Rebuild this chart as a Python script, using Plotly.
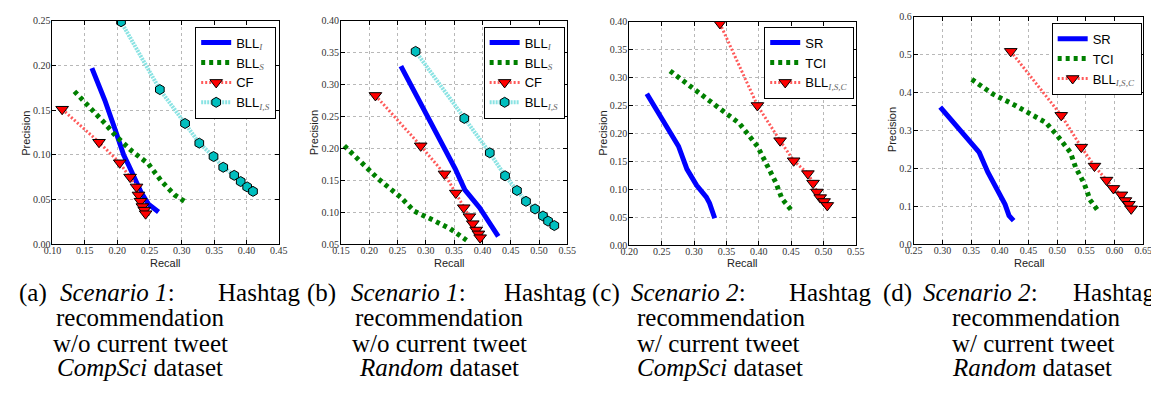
import plotly.graph_objects as go

W, H = 1159, 399

# ---------------- data ----------------
# (a) Scenario 1, CompSci
a_blli_x = [0.161, 0.181, 0.197, 0.210, 0.218, 0.226, 0.237, 0.248, 0.264]
a_blli_y = [0.197, 0.161, 0.128, 0.100, 0.088, 0.074, 0.058, 0.045, 0.036]
a_blls_x = [0.134, 0.160, 0.180, 0.198, 0.223, 0.248, 0.269, 0.289, 0.308]
a_blls_y = [0.171, 0.152, 0.136, 0.121, 0.104, 0.090, 0.070, 0.055, 0.046]
a_cf_x = [0.115, 0.172, 0.204, 0.220, 0.230, 0.233, 0.236, 0.239, 0.242, 0.244]
a_cf_y = [0.151, 0.114, 0.091, 0.075, 0.064, 0.055, 0.048, 0.042, 0.038, 0.034]
a_bllis_x = [0.206, 0.266, 0.305, 0.327, 0.349, 0.364, 0.381, 0.391, 0.401, 0.410]
a_bllis_y = [0.249, 0.173, 0.135, 0.113, 0.098, 0.086, 0.077, 0.070, 0.064, 0.059]

# (b) Scenario 1, Random
b_blli_x = [0.256, 0.288, 0.320, 0.352, 0.369, 0.395, 0.428]
b_blli_y = [0.329, 0.275, 0.224, 0.168, 0.135, 0.107, 0.062]
b_blls_x = [0.156, 0.185, 0.215, 0.256, 0.279, 0.314, 0.343, 0.372]
b_blls_y = [0.204, 0.178, 0.153, 0.123, 0.102, 0.087, 0.074, 0.056]
b_cf_x = [0.211, 0.291, 0.333, 0.353, 0.367, 0.377, 0.383, 0.389, 0.393, 0.396]
b_cf_y = [0.283, 0.204, 0.160, 0.130, 0.107, 0.093, 0.082, 0.072, 0.066, 0.060]
b_bllis_x = [0.282, 0.368, 0.413, 0.440, 0.461, 0.477, 0.493, 0.507, 0.516, 0.527]
b_bllis_y = [0.352, 0.247, 0.193, 0.157, 0.134, 0.117, 0.105, 0.094, 0.086, 0.079]

# (c) Scenario 2, CompSci
c_sr_x = [0.227, 0.253, 0.276, 0.289, 0.304, 0.319, 0.324, 0.332]
c_sr_y = [0.271, 0.223, 0.177, 0.136, 0.107, 0.086, 0.075, 0.048]
c_tci_x = [0.263, 0.304, 0.340, 0.370, 0.398, 0.413, 0.426, 0.436, 0.450]
c_tci_y = [0.312, 0.276, 0.247, 0.218, 0.177, 0.142, 0.113, 0.083, 0.063]
c_bllisc_x = [0.340, 0.398, 0.433, 0.454, 0.476, 0.484, 0.490, 0.495, 0.501, 0.506]
c_bllisc_y = [0.397, 0.250, 0.187, 0.151, 0.128, 0.111, 0.095, 0.085, 0.078, 0.071]

# (d) Scenario 2, Random
d_sr_x = [0.296, 0.331, 0.364, 0.379, 0.402, 0.409, 0.416, 0.424]
d_sr_y = [0.362, 0.302, 0.242, 0.190, 0.122, 0.105, 0.075, 0.062]
d_tci_x = [0.351, 0.388, 0.427, 0.480, 0.501, 0.523, 0.532, 0.547, 0.553, 0.557, 0.572]
d_tci_y = [0.435, 0.396, 0.366, 0.321, 0.285, 0.242, 0.203, 0.160, 0.135, 0.117, 0.086]
d_bllisc_x = [0.419, 0.507, 0.542, 0.565, 0.586, 0.598, 0.612, 0.619, 0.625, 0.629]
d_bllisc_y = [0.509, 0.340, 0.256, 0.206, 0.169, 0.147, 0.130, 0.115, 0.105, 0.093]

# axis ranges / ticks
a_xticks = [0.10, 0.15, 0.20, 0.25, 0.30, 0.35, 0.40, 0.45]
a_yticks = [0.00, 0.05, 0.10, 0.15, 0.20, 0.25]
b_xticks = [0.15, 0.20, 0.25, 0.30, 0.35, 0.40, 0.45, 0.50, 0.55]
b_yticks = [0.05, 0.10, 0.15, 0.20, 0.25, 0.30, 0.35, 0.40]
c_xticks = [0.20, 0.25, 0.30, 0.35, 0.40, 0.45, 0.50, 0.55]
c_yticks = [0.00, 0.05, 0.10, 0.15, 0.20, 0.25, 0.30, 0.35, 0.40]
d_xticks = [0.25, 0.30, 0.35, 0.40, 0.45, 0.50, 0.55, 0.60, 0.65]
d_yticks = [0.0, 0.1, 0.2, 0.3, 0.4, 0.5, 0.6]

SERIF = '"Liberation Serif", "Times New Roman", "DejaVu Serif", serif'
SANS = '"Liberation Sans", Arial, "DejaVu Sans", sans-serif'

# legend labels
SUB = "<sub><span style='font-family:Liberation Serif, DejaVu Serif, serif;color:#666'><i>{}</i></span></sub>"
lab_blli = 'BLL' + SUB.format('I')
lab_blls = 'BLL' + SUB.format('S')
lab_cf = 'CF'
lab_bllis = 'BLL' + SUB.format('I,S')
lab_sr = 'SR'
lab_tci = 'TCI'
lab_bllisc = 'BLL' + SUB.format('I,S,C')

# ---------------- styles ----------------
def st_blue():
    return dict(mode='lines', line=dict(color='#0000ff', width=5))

def st_green():
    return dict(mode='lines', line=dict(color='#008000', width=5, dash='4px,4px'))

def st_red():
    return dict(mode='lines+markers', line=dict(color='#ff5a5a', width=3, dash='2px,2px'),
                marker=dict(symbol='triangle-down', size=11, color='#ff0000',
                            line=dict(color='black', width=1)))

def st_cyan():
    return dict(mode='lines+markers', line=dict(color='#8ae3e3', width=4, dash='2px,1px'),
                marker=dict(symbol='hexagon', size=10, color='#00bfbf',
                            line=dict(color='black', width=1)))

fig = go.Figure()

def add(ax, lg, x, y, name, st):
    xa = 'x' if ax == 1 else f'x{ax}'
    ya = 'y' if ax == 1 else f'y{ax}'
    fig.add_trace(go.Scatter(x=x, y=y, name=name, xaxis=xa, yaxis=ya,
                             legend=lg, **st))

add(1, 'legend', a_blli_x, a_blli_y, lab_blli, st_blue())
add(1, 'legend', a_blls_x, a_blls_y, lab_blls, st_green())
add(1, 'legend', a_cf_x, a_cf_y, lab_cf, st_red())
add(1, 'legend', a_bllis_x, a_bllis_y, lab_bllis, st_cyan())

add(2, 'legend2', b_blli_x, b_blli_y, lab_blli, st_blue())
add(2, 'legend2', b_blls_x, b_blls_y, lab_blls, st_green())
add(2, 'legend2', b_cf_x, b_cf_y, lab_cf, st_red())
add(2, 'legend2', b_bllis_x, b_bllis_y, lab_bllis, st_cyan())

add(3, 'legend3', c_sr_x, c_sr_y, lab_sr, st_blue())
add(3, 'legend3', c_tci_x, c_tci_y, lab_tci, st_green())
add(3, 'legend3', c_bllisc_x, c_bllisc_y, lab_bllisc, st_red())

add(4, 'legend4', d_sr_x, d_sr_y, lab_sr, st_blue())
add(4, 'legend4', d_tci_x, d_tci_y, lab_tci, st_green())
add(4, 'legend4', d_bllisc_x, d_bllisc_y, lab_bllisc, st_red())

# ---------------- layout ----------------
panels = [
    dict(x0=36, x1=266, y0=8, y1=237, xt=a_xticks, yt=a_yticks, xf='.2f', yf='.2f',
         leg=(181, 14), recall=(151, 256), prec=(9, 123)),
    dict(x0=329, x1=559, y0=8, y1=237, xt=b_xticks, yt=b_yticks, xf='.2f', yf='.2f',
         leg=(474, 14), recall=(439, 256), prec=(302, 123)),
    dict(x0=622, x1=852, y0=9, y1=238, xt=c_xticks, yt=c_yticks, xf='.2f', yf='.2f',
         leg=(759, 14), recall=(737, 256), prec=(595, 123)),
    dict(x0=911, x1=1144, y0=4, y1=237, xt=d_xticks, yt=d_yticks, xf='.2f', yf='.1f',
         leg=(1051, 10), recall=(1028, 256), prec=(889, 120)),
]

tickfont = dict(family=SERIF, size=10, color='#333')
annotations = []
layout = dict(width=W, height=H, margin=dict(l=0, r=0, t=0, b=0),
              paper_bgcolor='white', plot_bgcolor='white', showlegend=True)

for i, p in enumerate(panels, start=1):
    sfx = '' if i == 1 else str(i)
    common = dict(showline=True, linecolor='black', linewidth=1, mirror='ticks',
                  ticks='inside', ticklen=4, tickcolor='black', tickwidth=1,
                  showgrid=True, gridcolor='#b8b8b8', gridwidth=1, griddash='dot',
                  zeroline=False, tickfont=tickfont, fixedrange=True)
    layout['xaxis' + sfx] = dict(domain=[p['x0'] / W, p['x1'] / W],
                                 range=[p['xt'][0], p['xt'][-1]], tickvals=p['xt'],
                                 tickformat=p['xf'], anchor='y' + sfx,
                                 ticklabelstandoff=-3, **common)
    layout['yaxis' + sfx] = dict(domain=[1 - p['y1'] / H, 1 - p['y0'] / H],
                                 range=[p['yt'][0], p['yt'][-1]], tickvals=p['yt'],
                                 tickformat=p['yf'], anchor='x' + sfx,
                                 ticklabelstandoff=-1, **common)
    layout['legend' + sfx] = dict(x=p['leg'][0] / W, y=1 - p['leg'][1] / H,
                                  xanchor='left', yanchor='top', bgcolor='white',
                                  bordercolor='black', borderwidth=1,
                                  font=dict(family=SANS, size=13, color='black'),
                                  tracegroupgap=0, itemwidth=30)
    annotations.append(dict(text='Recall', x=p['recall'][0] / W, y=1 - p['recall'][1] / H,
                            xref='paper', yref='paper', showarrow=False,
                            xanchor='center', yanchor='middle',
                            font=dict(family=SANS, size=11, color='#222')))
    annotations.append(dict(text='Precision', x=p['prec'][0] / W, y=1 - p['prec'][1] / H,
                            xref='paper', yref='paper', showarrow=False, textangle=-90,
                            xanchor='center', yanchor='middle',
                            font=dict(family=SANS, size=11, color='#222')))

# ---------------- captions ----------------
capfont = dict(family=SERIF, size=25, color='black')
cap_labels = ['(a)', '(b)', '(c)', '(d)']
cap_scen = ['<i>Scenario 1</i>:', '<i>Scenario 1</i>:', '<i>Scenario 2</i>:', '<i>Scenario 2</i>:']
cap_line2 = ['recommendation'] * 4
cap_line3 = ['w/o current tweet', 'w/o current tweet', 'w/ current tweet', 'w/ current tweet']
cap_line4 = ['<i>CompSci</i> dataset', '<i>Random</i> dataset',
             '<i>CompSci</i> dataset', '<i>Random</i> dataset']

lab_x = [0, 293, 582, 878]
scen_x = [42, 337, 622, 918]
hash_x = [290, 580, 870, 1158]
rest_x = [125, 429, 628, 948]
rest_anchor = ['center', 'center', 'left', 'left']
line_y = [287, 312, 339, 364]

def cap(text, x, y, anchor):
    annotations.append(dict(text=text, x=x / W, y=1 - y / H, xref='paper', yref='paper',
                            showarrow=False, xanchor=anchor, yanchor='middle',
                            font=capfont))

for k in range(4):
    cap(cap_labels[k], lab_x[k], line_y[0], 'left')
    cap(cap_scen[k], scen_x[k], line_y[0], 'left')
    cap('Hashtag', hash_x[k], line_y[0], 'right')
    cap(cap_line2[k], rest_x[k], line_y[1], rest_anchor[k])
    cap(cap_line3[k], rest_x[k], line_y[2], rest_anchor[k])
    cap(cap_line4[k], rest_x[k], line_y[3], rest_anchor[k])

layout['annotations'] = annotations
fig.update_layout(**layout)
fig.write_html('out.html')
